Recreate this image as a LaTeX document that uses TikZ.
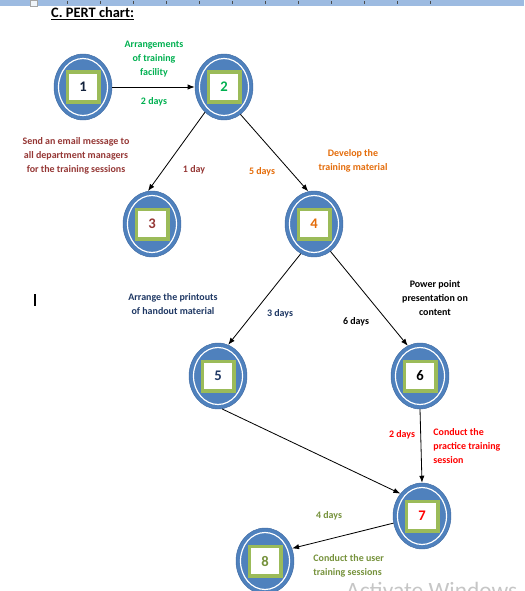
\documentclass[tikz,border=0pt]{standalone}
\usepackage{fontspec}
\setmainfont{Carlito}
\usepackage{tikz}
\usetikzlibrary{shapes.geometric,arrows.meta}

\definecolor{evblue}{HTML}{4F81BD}
\definecolor{evedge}{HTML}{3E6AA2}
\definecolor{sqgreen}{HTML}{9BBB59}
\definecolor{rulerblue}{RGB}{157,187,225}
\definecolor{tgreen}{HTML}{00B050}
\definecolor{tbrown}{HTML}{953735}
\definecolor{torange}{HTML}{E46C0A}
\definecolor{tnavy}{HTML}{1F3864}
\definecolor{tred}{HTML}{FF0000}
\definecolor{tolive}{HTML}{76923C}

\tikzset{
  event/.style={ellipse, fill=evblue, draw=evedge, line width=0.4pt,
    minimum width=1.74cm, minimum height=1.98cm, inner sep=0pt},
  num/.style={rectangle, fill=white, draw=white, double=sqgreen,
    line width=0.45pt, double distance=0.75pt, minimum width=0.86cm,
    minimum height=0.8cm, inner sep=0pt, font=\fontsize{12.5}{14}\selectfont\bfseries},
  task/.style={align=center, font=\fontsize{8.5}{12}\selectfont\bfseries, inner sep=1pt},
  dur/.style={font=\fontsize{8.5}{12}\selectfont\bfseries, inner sep=1pt},
  act/.style={-{Latex[length=6pt,width=4.5pt]}, line width=0.7pt}
}

\begin{document}
\begin{tikzpicture}[x=0.03cm, y=-0.03cm]
  \useasboundingbox (0,0) rectangle (524,591);
  % Ruler strip of the page.
  \fill[rulerblue] (0,0) rectangle (524,6);
  \fill[white!85!rulerblue] (30,0) rectangle (37,6);
  \draw[gray!70, line width=0.3pt] (30,0) rectangle (37,6);
  \foreach \t in {67,100,...,440} {
    \draw[gray!60!black, line width=0.4pt] (\t,1.5) -- (\t,4);
  }
  \node[anchor=west, font=\fontsize{12.3}{14}\selectfont\bfseries, inner sep=0pt]
    (title) at (51,14) {\underline{C. PERT chart:}};
  % Text cursor.
  \draw[line width=1.4pt] (35,294) -- (35,306);

  % Events: blue disc, white ring, green frame, number.
  \foreach \n/\p/\c in {1/{83,87}/tnavy!60!black, 2/{224,87}/tgreen,
      3/{152,224}/tbrown, 4/{314,224}/torange, 5/{218,376}/tnavy,
      6/{420,376}/black, 7/{422,516}/tred, 8/{265,561}/tolive} {
    \node[event] (n\n) at (\p) {};
    \draw[white, line width=1pt] (n\n.center) ellipse (24.5 and 28.5);
    \fill[sqgreen] ([shift={(-17.5,-16.5)}]n\n.center)
      rectangle ([shift={(17.5,16.5)}]n\n.center);
    \node[num, text=\c] (k\n) at (n\n) {\n};
  }

  % Activities.
  \draw[act] (n1) -- (n2);
  \draw[act] (n2.233) -- (n3.97);
  \draw[act] (n2.-59) -- (n4.100);
  \draw[act] (n4.246) -- (n5.72);
  \draw[act] (n4.-59) -- (n6.112);
  \draw[act] (n5.-83) -- (n7.134);
  \draw[act] (n6.south) -- (n7.north);
  \draw[act] (n7.194) -- (n8.25);

  % Task names and durations.
  \node[task, text=tgreen] (tA) at (154,59) {Arrangements\\of training\\facility};
  \node[dur, text=tgreen] (d12) at (154,102) {2 days};
  \node[task, text=tbrown] (tB) at (76,156)
    {Send an email message to\\all department managers\\for the training sessions};
  \node[dur, text=tbrown] (d23) at (194,170) {1 day};
  \node[dur, text=torange] (d24) at (262,172) {5 days};
  \node[task, text=torange] (tC) at (353,161) {Develop the\\training material};
  \node[task, text=tnavy] (tD) at (173,304) {Arrange the printouts\\of handout material};
  \node[dur, text=tnavy] (d45) at (280,314) {3 days};
  \node[dur] (d46) at (356,322) {6 days};
  \node[task] (tE) at (435,298) {Power point\\presentation on\\content};
  \node[dur, text=tred] (d67) at (402,435) {2 days};
  \node[task, align=left, anchor=west, text=tred] (tF) at (432,446)
    {Conduct the\\practice training\\session};
  \node[dur, text=tolive] (d78) at (329,516) {4 days};
  \node[task, align=left, anchor=west, text=tolive] (tG) at (312,566)
    {Conduct the user\\training sessions};

  % Watermark at the lower edge.
  \node[anchor=north west, text=gray!45, font=\fontsize{20}{22}\selectfont, inner sep=0pt]
    (wm) at (346,582) {Activate Windows};
\end{tikzpicture}
\end{document}
